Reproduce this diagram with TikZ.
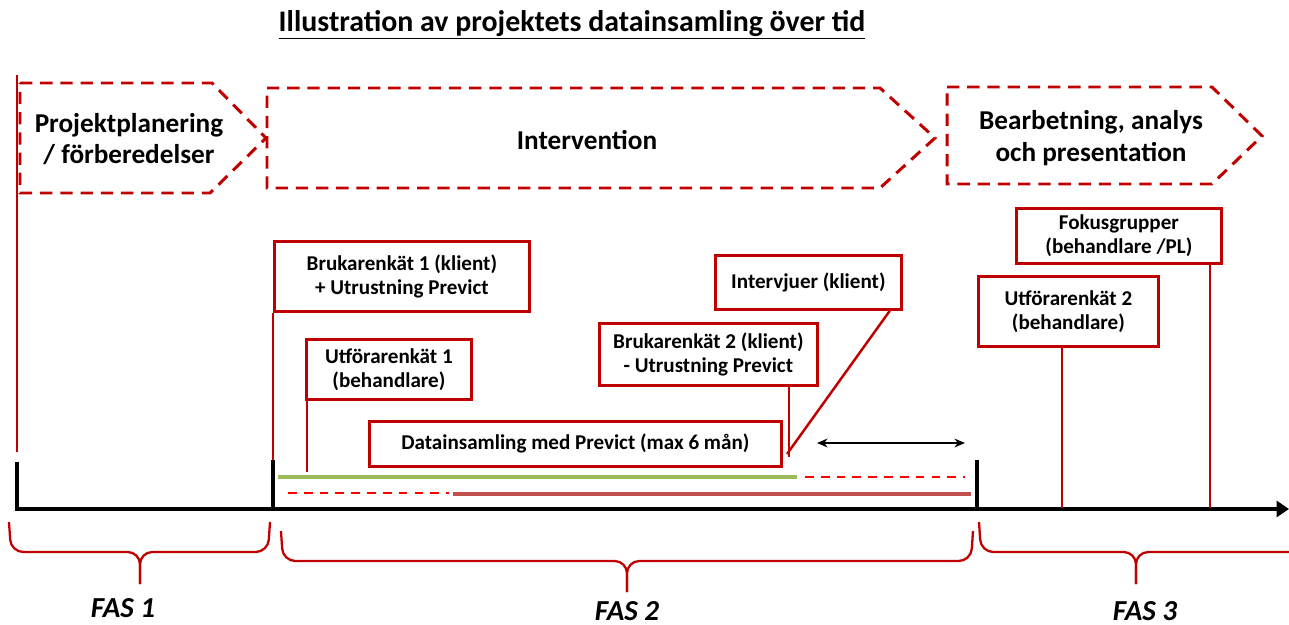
\documentclass[tikz,border=0pt]{standalone}
\usepackage{fontspec}
\setmainfont{Carlito}
\usepackage{xcolor}
\usetikzlibrary{arrows.meta, calc}
\definecolor{boxred}{RGB}{192,0,0}
\definecolor{markred}{RGB}{255,0,0}
\definecolor{spanred}{RGB}{192,80,77}
\definecolor{spangreen}{RGB}{155,187,89}
\tikzset{
    phasebox/.style={
        draw=boxred, line width=1.7pt, dash pattern=on 7pt off 4.5pt, line join=miter
    },
    phasetext/.style={
        align=center, font=\fontsize{15.5}{17.8}\selectfont\bfseries
    },
    infobox/.style={
        rectangle, draw=boxred, line width=1.6pt, fill=white, inner sep=0pt,
        anchor=north west, align=center, font=\fontsize{12}{13.8}\selectfont\bfseries
    },
    stem/.style={
        draw=boxred, line width=1.4pt
    },
    tick_mark/.style={
        draw=black, line width=2.3pt
    },
    axis_line/.style={
        draw=black, line width=2.8pt, -{Triangle[length=7pt, width=9pt]}
    },
    span_green/.style={
        draw=spangreen, line width=2.2pt
    },
    span_red/.style={
        draw=spanred, line width=2pt
    },
    span_dashed/.style={
        draw=markred, line width=1.2pt, dash pattern=on 5pt off 4pt
    },
    fasbrace/.style={
        draw=boxred, line width=1.3pt, rounded corners=7pt
    },
    fastext/.style={
        font=\fontsize{16.5}{18}\selectfont\bfseries\itshape
    }
}

\begin{document}
\begin{tikzpicture}[x=0.02cm, y=-0.02cm]
    \useasboundingbox (0,0) rectangle (1289,625);

    \node[font=\fontsize{17}{20}\selectfont\bfseries] (title) at (572,25) {\underline{Illustration av projektets datainsamling över tid}};

    % faser
    \draw[phasebox] (20,83) -- (212,83) -- (266,138) -- (210,193) -- (20,193) -- cycle;
    \draw[phasebox] (267,88) -- (880,88) -- (935,138) -- (880,188) -- (267,188) -- cycle;
    \draw[phasebox] (947,87) -- (1212,87) -- (1262,136) -- (1212,184) -- (947,184) -- cycle;
    \node[phasetext] (plan) at (129,139) {Projektplanering\\/ förberedelser};
    \node[phasetext] (interv) at (587,140) {Intervention};
    \node[phasetext] (analys) at (1091,138) {Bearbetning, analys\\och presentation};

    % tidslinje
    \coordinate (axstart) at (15,509);
    \coordinate (axend) at (1289,509);
    \coordinate (t1) at (17,462);
    \coordinate (t2) at (273,460);
    \coordinate (t3) at (977,460);
    \draw[stem] (17,75) -- (17,452);
    \draw[tick_mark] (t1) -- (t1 |- axstart);
    \draw[tick_mark] (t2) -- (t2 |- axstart);
    \draw[tick_mark] (t3) -- (t3 |- axstart);
    \draw[axis_line] (axstart) -- (axend);

    % datainsamling
    \node[infobox, minimum width=5.1cm, minimum height=1.4cm] (bru1) at (273,240) {Brukarenkät 1 (klient)\\+ Utrustning Previct};
    \node[infobox, minimum width=3.3cm, minimum height=1.2cm] (utf1) at (305,338) {Utförarenkät 1\\(behandlare)};
    \node[infobox, minimum width=8.24cm, minimum height=0.9cm] (data) at (368,420) {Datainsamling med Previct (max 6 mån)};
    \node[infobox, minimum width=4.36cm, minimum height=1.24cm] (bru2) at (598,322) {Brukarenkät 2 (klient)\\- Utrustning Previct};
    \node[infobox, minimum width=3.72cm, minimum height=1.08cm] (intv) at (714,254) {Intervjuer (klient)};
    \node[infobox, minimum width=4.1cm, minimum height=1.1cm] (fokus) at (1015,207) {Fokusgrupper\\(behandlare /PL)};
    \node[infobox, minimum width=3.6cm, minimum height=1.4cm] (utf2) at (977,275) {Utförarenkät 2\\(behandlare)};

    \coordinate (u1end) at (307,472);
    \coordinate (b2end) at (789,457);
    \coordinate (ivend) at (787,454);
    \coordinate (fkend) at (1210,508);
    \coordinate (u2end) at (1062,508);
    \draw[stem] (bru1.south west) -- (t2);
    \draw[stem] (u1end |- utf1.south) -- (u1end);
    \draw[stem] (b2end |- bru2.south) -- (b2end);
    \draw[stem] ([xshift=-0.26cm]intv.south east) -- (ivend);
    \draw[stem] (fkend |- fokus.south) -- (fkend);
    \draw[stem] (u2end |- utf2.south) -- (u2end);

    \coordinate (dl) at (817,443);
    \coordinate (dr) at (965,443);
    \draw[black, line width=1pt, {Stealth[length=6pt, width=5pt]}-{Stealth[length=6pt, width=5pt]}] (dl) -- (dr);

    \draw[span_green] (278,477) -- (797,477);
    \draw[span_dashed] (805,477) -- (965,477);
    \draw[span_dashed] (288,493) -- (449,493);
    \draw[span_red] (453,494) -- (971,494);

    % faser under tidslinjen
    \draw[fasbrace] (9,522) -- (11,552) -- (140,552) -- (140,584);
    \draw[fasbrace] (270,522) -- (268,552) -- (140,552) -- (140,584);
    \draw[fasbrace] (281,531) -- (283,561) -- (627,561) -- (627,592);
    \draw[fasbrace] (973,531) -- (971,561) -- (627,561) -- (627,592);
    \draw[fasbrace] (979,522) -- (981,552) -- (1136,552) -- (1136,584);
    \draw[fasbrace] (1300,552) -- (1136,552) -- (1136,584);
    \node[fastext] (fas1) at (123,608) {FAS 1};
    \node[fastext] (fas2) at (627,611) {FAS 2};
    \node[fastext] (fas3) at (1145,611) {FAS 3};
\end{tikzpicture}
\end{document}
